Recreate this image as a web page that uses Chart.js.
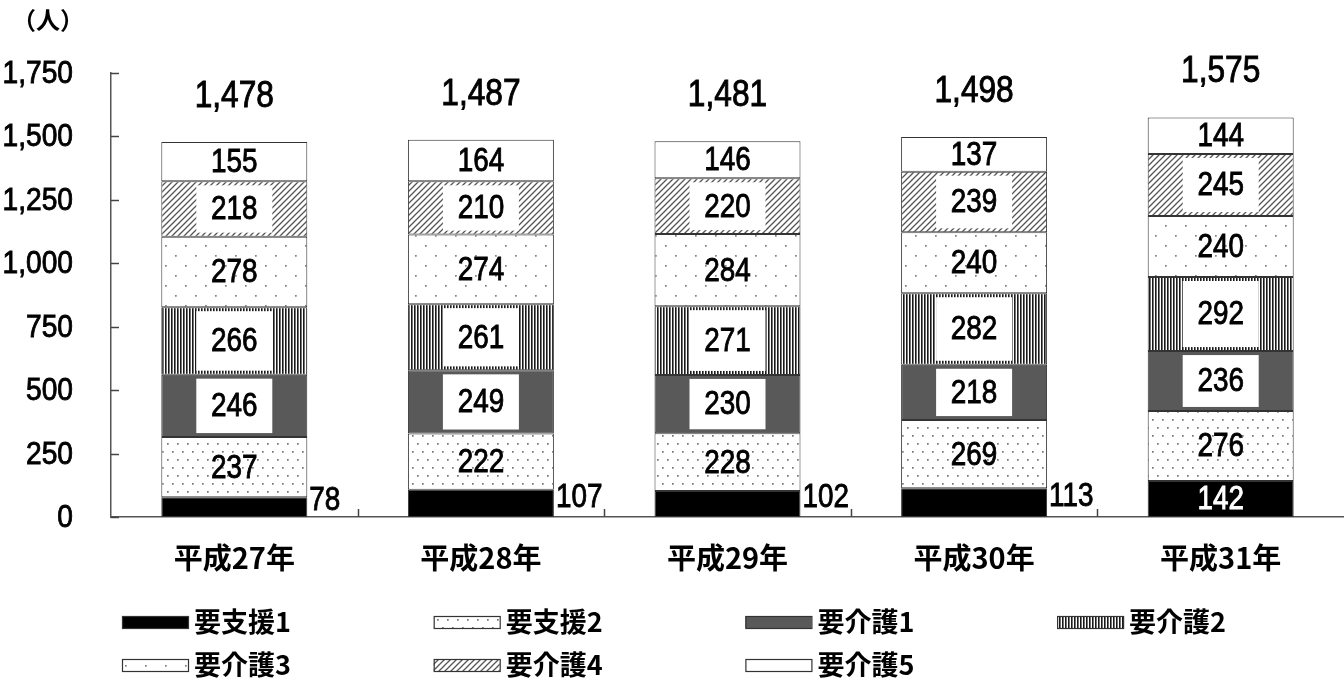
<!DOCTYPE html>
<html>
<head>
<meta charset="utf-8">
<script src="https://cdn.jsdelivr.net/npm/chart.js@4.4.1/dist/chart.umd.min.js"></script>
<style>
  html, body { margin: 0; padding: 0; background: #fff; }
  #wrap { width: 1344px; height: 685px; }
</style>
</head>
<body>
<div id="wrap"><canvas id="chart"></canvas></div>
<script>
// data
const years = ['平成27年', '平成28年', '平成29年', '平成30年', '平成31年'];
const shien1 = [78, 107, 102, 113, 142];
const shien2 = [237, 222, 228, 269, 276];
const kaigo1 = [246, 249, 230, 218, 236];
const kaigo2 = [266, 261, 271, 282, 292];
const kaigo3 = [278, 274, 284, 240, 240];
const kaigo4 = [218, 210, 220, 239, 245];
const kaigo5 = [155, 164, 146, 137, 144];
const yTicks = [0, 250, 500, 750, 1000, 1250, 1500, 1750];

const NUM_FONT = '"Liberation Sans", Arial, sans-serif';
const JP_FONT = '"Noto Sans CJK JP", "Noto Sans", sans-serif';

const canvas = document.getElementById('chart');
const mainCtx = canvas.getContext('2d');

// small tiles for the fill patterns
function makePattern(w, h, draw) {
    const c = document.createElement('canvas');
    c.width = w; c.height = h;
    const g = c.getContext('2d');
    g.fillStyle = '#fff';
    g.fillRect(0, 0, w, h);
    draw(g);
    return mainCtx.createPattern(c, 'repeat');
}

const denseDots = makePattern(10, 16, g => {
    g.fillStyle = '#777';
    g.fillRect(2, 3, 1.7, 1.7);
    g.fillRect(7, 11, 1.7, 1.7);
});
const sparseDots = makePattern(20, 20, g => {
    g.fillStyle = '#808080';
    g.fillRect(5, 5, 1.7, 1.7);
    g.fillRect(15, 15, 1.7, 1.7);
});
const vertStripes = makePattern(3, 3, g => {
    g.fillStyle = '#1a1a1a';
    g.fillRect(0, 0, 1.6, 3);
});
const hatch = makePattern(6, 6, g => {
    g.strokeStyle = '#555';
    g.lineWidth = 1.3;
    g.beginPath();
    g.moveTo(-1, 7); g.lineTo(7, -1);
    g.moveTo(-1, 1); g.lineTo(1, -1);
    g.moveTo(5, 7); g.lineTo(7, 5);
    g.stroke();
});

const datasets = [
    { label: '要支援1', data: shien1, backgroundColor: '#000', box: false },
    { label: '要支援2', data: shien2, backgroundColor: denseDots, box: false },
    { label: '要介護1', data: kaigo1, backgroundColor: '#595959', box: true },
    { label: '要介護2', data: kaigo2, backgroundColor: vertStripes, box: true },
    { label: '要介護3', data: kaigo3, backgroundColor: sparseDots, box: false },
    { label: '要介護4', data: kaigo4, backgroundColor: hatch, box: true },
    { label: '要介護5', data: kaigo5, backgroundColor: '#fff', box: false }
].map(d => Object.assign(d, {
    borderColor: '#333',
    borderWidth: 1,
    borderSkipped: false,
    barPercentage: 0.592,
    categoryPercentage: 1
}));

// narrow-looking numbers: squeeze the text horizontally, thicken a little
function drawNum(ctx, text, x, y, align, size, sx) {
    ctx.save();
    ctx.translate(x, y);
    ctx.scale(sx, 1);
    ctx.font = size + 'px ' + NUM_FONT;
    ctx.textAlign = align;
    ctx.textBaseline = 'middle';
    ctx.strokeStyle = ctx.fillStyle;
    ctx.lineWidth = 0.9;
    ctx.fillText(text, 0, 0);
    ctx.strokeText(text, 0, 0);
    ctx.restore();
}

const overlay = {
    id: 'overlay',
    afterDatasetsDraw(chart) {
        const ctx = chart.ctx;
        const xs = chart.scales.x, ys = chart.scales.y;
        const area = chart.chartArea;
        ctx.save();

        // value axis: inward tick marks and labels
        ctx.strokeStyle = '#444';
        ctx.lineWidth = 1.5;
        ctx.fillStyle = '#000';
        yTicks.forEach(v => {
            const py = Math.round(ys.getPixelForValue(v)) + 0.5;
            ctx.strokeStyle = '#444';
            ctx.lineWidth = 1.5;
            ctx.beginPath();
            ctx.moveTo(area.left, py);
            ctx.lineTo(area.left + 8, py);
            ctx.stroke();
            drawNum(ctx, v.toLocaleString('en-US'), area.left - 38, py + 1, 'right', 32, 0.88);
        });
        // small dividers between categories
        ctx.strokeStyle = '#444';
        ctx.lineWidth = 1.5;
        for (let i = 1; i < years.length; i++) {
            const px = Math.round((xs.getPixelForValue(i - 1) + xs.getPixelForValue(i)) / 2) + 0.5;
            ctx.beginPath();
            ctx.moveTo(px, area.bottom);
            ctx.lineTo(px, area.bottom - 8);
            ctx.stroke();
        }

        // values inside the segments
        chart.data.datasets.forEach((ds, di) => {
            const meta = chart.getDatasetMeta(di);
            meta.data.forEach((bar, i) => {
                const v = ds.data[i];
                const mid = (bar.y + bar.base) / 2;
                if (di === 0) {
                    if (v >= 130) {
                        ctx.fillStyle = '#fff';
                        drawNum(ctx, v, bar.x, mid + 1, 'center', 34, 0.82);
                    } else {
                        ctx.fillStyle = '#000';
                        drawNum(ctx, v, bar.x + bar.width / 2 + 2, mid - 6, 'left', 34, 0.82);
                    }
                    return;
                }
                if (ds.box) {
                    const h = Math.abs(bar.base - bar.y) - 8;
                    ctx.fillStyle = '#fff';
                    ctx.fillRect(bar.x - 38, mid - h / 2, 76, h);
                }
                ctx.fillStyle = '#000';
                drawNum(ctx, v, bar.x, mid + 1, 'center', 34, 0.82);
            });
        });

        // totals above the stacks
        ctx.fillStyle = '#000';
        years.forEach((_, i) => {
            let total = 0;
            chart.data.datasets.forEach(ds => { total += ds.data[i]; });
            const top = chart.getDatasetMeta(chart.data.datasets.length - 1).data[i].y;
            drawNum(ctx, total.toLocaleString('en-US'), xs.getPixelForValue(i), top - 45, 'center', 36, 0.88);
        });

        // unit label
        ctx.fillStyle = '#000';
        ctx.font = 'bold 24px ' + JP_FONT;
        ctx.textAlign = 'left';
        ctx.textBaseline = 'middle';
        ctx.fillText('（人）', 12, 20);
        ctx.restore();
    },
    afterDraw(chart) {
        // legend in a 4-column grid
        const ctx = chart.ctx;
        ctx.save();
        ctx.font = 'bold 27px ' + JP_FONT;
        ctx.textBaseline = 'middle';
        ctx.textAlign = 'left';
        chart.data.datasets.forEach((ds, i) => {
            const col = i % 4, row = Math.floor(i / 4);
            const x = 122 + col * 311.7;
            const y = row === 0 ? 622 : 665;
            ctx.fillStyle = ds.backgroundColor;
            ctx.fillRect(x, y - 6, 66, 12);
            ctx.strokeStyle = '#333';
            ctx.lineWidth = 1.2;
            ctx.strokeRect(x + 0.5, y - 5.5, 66, 12);
            ctx.fillStyle = '#000';
            ctx.fillText(ds.label, x + 72, y);
        });
        ctx.restore();
    }
};

new Chart(canvas, {
    type: 'bar',
    data: { labels: years, datasets: datasets },
    options: {
        responsive: true,
        maintainAspectRatio: false,
        animation: false,
        layout: { padding: { top: 73, left: 0, right: 0, bottom: 100 } },
        plugins: {
            legend: { display: false },
            tooltip: { enabled: false }
        },
        scales: {
            x: {
                stacked: true,
                grid: { display: false, drawTicks: false },
                border: { display: true, color: '#555', width: 1.5 },
                ticks: {
                    padding: 24,
                    color: '#000',
                    font: { family: JP_FONT, size: 29, weight: 'bold' }
                },
                afterFit(scale) { scale.height = 68; }
            },
            y: {
                stacked: true,
                min: 0,
                max: 1750,
                afterBuildTicks(scale) { scale.ticks = yTicks.map(v => ({ value: v })); },
                grid: { display: false, drawTicks: false },
                border: { display: true, color: '#555', width: 1.5 },
                ticks: { display: false },
                afterFit(scale) { scale.width = 111; }
            }
        }
    },
    plugins: [overlay]
});
</script>
</body>
</html>
